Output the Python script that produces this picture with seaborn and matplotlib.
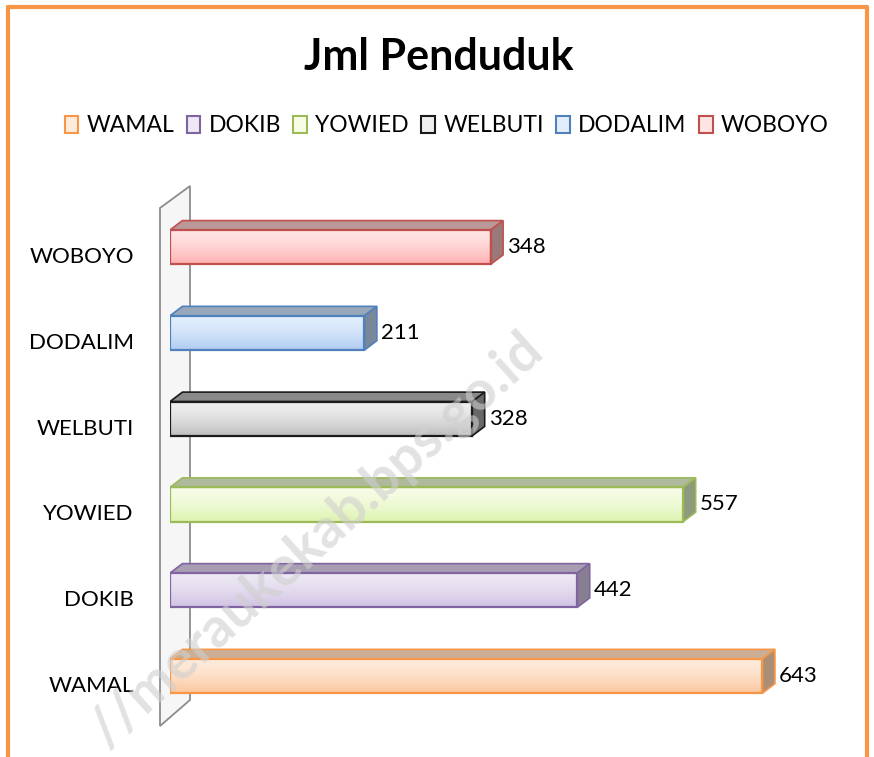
import matplotlib
matplotlib.use("Agg")
import matplotlib.pyplot as plt
import seaborn as sns
import numpy as np
import pandas as pd
from matplotlib.patches import Patch, Polygon
from matplotlib.lines import Line2D
from matplotlib.colors import to_rgb
from matplotlib.transforms import ScaledTranslation

# data
desa = ['WOBOYO', 'DODALIM', 'WELBUTI', 'YOWIED', 'DOKIB', 'WAMAL']
penduduk = [348, 211, 328, 557, 442, 643]
legend_order = ['WAMAL', 'DOKIB', 'YOWIED', 'WELBUTI', 'DODALIM', 'WOBOYO']

# colors (edge, light, dark) per desa
edge_col = {'WAMAL': '#F79646', 'DOKIB': '#8064A2', 'YOWIED': '#9BBB59',
            'WELBUTI': '#1A1A1A', 'DODALIM': '#4F81BD', 'WOBOYO': '#C0504D'}
light_col = {'WAMAL': '#FEEBDC', 'DOKIB': '#EDE8F4', 'YOWIED': '#F6FCE6',
             'WELBUTI': '#EEEEEE', 'DODALIM': '#E2EEFC', 'WOBOYO': '#FFE4E4'}
dark_col = {'WAMAL': '#FBC79C', 'DOKIB': '#D0C2E3', 'YOWIED': '#DDF3AE',
            'WELBUTI': '#BDBDBD', 'DODALIM': '#B0CCF3', 'WOBOYO': '#FFB0B0'}

df = pd.DataFrame({'desa': desa, 'penduduk': penduduk})

sns.set_style('white')
plt.rcParams['font.family'] = ['Lato', 'DejaVu Sans']
plt.rcParams['text.color'] = 'black'
plt.rcParams['ytick.color'] = 'black'

W, H = 874, 757
fig = plt.figure(figsize=(W / 100, H / 100), dpi=100)
ax = fig.add_axes([170 / W, 21 / H, 645 / W, 566 / H])

sns.barplot(data=df, x='penduduk', y='desa', order=desa, hue='desa',
            palette=light_col, legend=False, width=0.4, ax=ax,
            edgecolor='none', orient='h')


def mix(c1, c2, t):
    a = np.array(to_rgb(c1))
    b = np.array(to_rgb(c2))
    return tuple(a * (1 - t) + b * t)


dx, dy = 13.5, 0.11
for p, d in zip(ax.patches, desa):
    x0, y0 = p.get_x(), p.get_y()
    w, h = p.get_width(), p.get_height()
    x1, y1 = x0 + w, y0 + h
    # gradient on front face
    c_top = np.array(to_rgb(light_col[d]))
    c_bot = np.array(to_rgb(dark_col[d]))
    t = np.linspace(0, 1, 50)[:, None] ** 1.6
    grad = (c_top * (1 - t) + c_bot * t)[:, None, :]
    ax.imshow(grad, extent=[x0, x1, y1, y0], aspect='auto', zorder=2,
              interpolation='bilinear')
    p.set_facecolor('none')
    p.set_edgecolor(edge_col[d])
    p.set_linewidth(1.6)
    p.set_zorder(4)
    # top face
    ax.add_patch(Polygon([(x0, y0), (x0 + dx, y0 - dy), (x1 + dx, y0 - dy), (x1, y0)],
                         closed=True, facecolor=mix(edge_col[d], '#B8B8B8', 0.7),
                         edgecolor=edge_col[d], linewidth=1.2, zorder=3))
    # side face
    ax.add_patch(Polygon([(x1, y0), (x1 + dx, y0 - dy), (x1 + dx, y1 - dy), (x1, y1)],
                         closed=True, facecolor=mix(edge_col[d], '#8A8A8A', 0.7),
                         edgecolor=edge_col[d], linewidth=1.2, zorder=3))

ax.set_xlim(0, 700)
ax.set_ylim(5.7, -0.9)

for cont in ax.containers:
    ax.bar_label(cont, padding=12, fontsize=16, color='black', family='Lato')

ax.set_xlabel('')
ax.set_ylabel('')
ax.set_xticks([])
ax.tick_params(axis='y', length=0, pad=26, labelsize=16, labelcolor='black')
for lab in ax.get_yticklabels():
    lab.set_transform(lab.get_transform() + ScaledTranslation(0, -0.08, fig.dpi_scale_trans))
for s in ax.spines.values():
    s.set_visible(False)

# side wall (behind the bars)
wall = Polygon([(160 / W, 1 - 208 / H), (190 / W, 1 - 186 / H),
                (190 / W, 1 - 700 / H), (160 / W, 1 - 726 / H)],
               closed=True, transform=fig.transFigure, facecolor='#F6F6F6',
               edgecolor='#8C8C8C', linewidth=1.3, zorder=0.5, clip_on=False)
ax.add_artist(wall)

# title and legend
fig.text(0.502, 1 - 57 / H, 'Jml Penduduk', ha='center', va='center',
         fontsize=31, fontweight='bold', color='black')
handles = [Patch(facecolor=light_col[d], edgecolor=edge_col[d], linewidth=1.5)
           for d in legend_order]
fig.legend(handles, legend_order, loc='center', bbox_to_anchor=(0.511, 1 - 126 / H),
           ncol=6, frameon=False, fontsize=16.5, handlelength=0.6, handleheight=0.8,
           handletextpad=0.35, columnspacing=0.55)

# watermark
fig.text(535 / W, 1 - 342 / H, '//meraukekab.bps.go.id', rotation=42,
         rotation_mode='anchor', ha='right', va='center', fontsize=40,
         fontweight='bold', color='#CFCFCF', alpha=0.6, zorder=10)

# orange frame (left, top, right)
orange = '#F79646'
fig.add_artist(Line2D([7.5 / W, 7.5 / W], [0, 1 - 6.5 / H], transform=fig.transFigure,
                      color=orange, linewidth=3))
fig.add_artist(Line2D([7.5 / W, 867 / W], [1 - 6.5 / H, 1 - 6.5 / H], transform=fig.transFigure,
                      color=orange, linewidth=3))
fig.add_artist(Line2D([867 / W, 867 / W], [1 - 6.5 / H, 0], transform=fig.transFigure,
                      color=orange, linewidth=3))

fig.savefig('out.png', dpi=100)
